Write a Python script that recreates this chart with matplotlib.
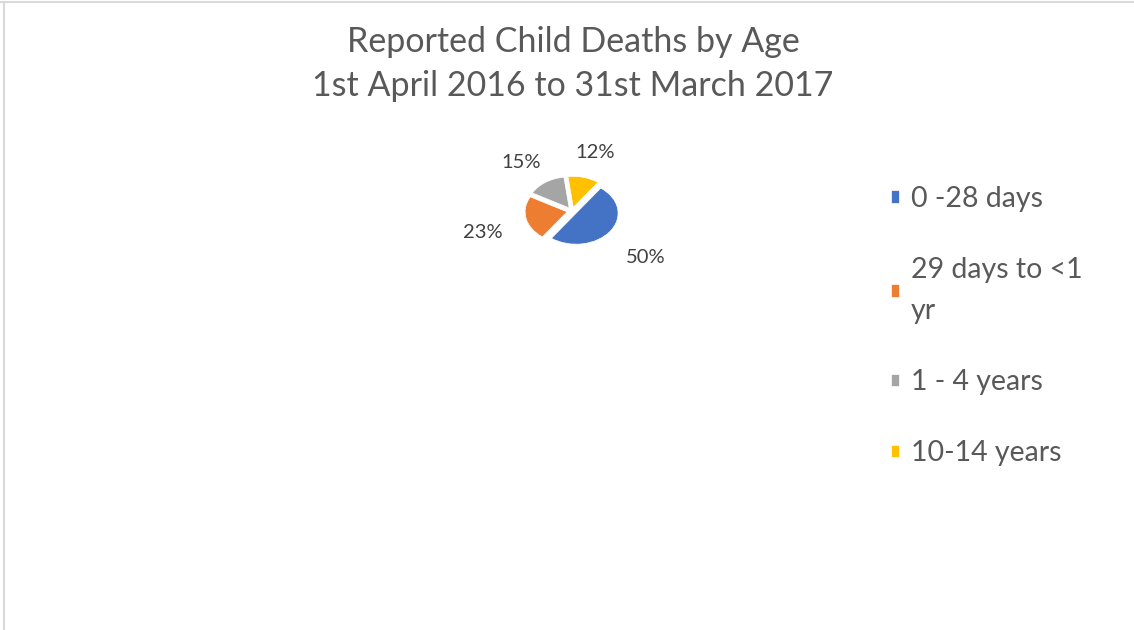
import matplotlib.pyplot as plt
import matplotlib.transforms as mtransforms
from matplotlib.lines import Line2D

# data
age_groups = ["0 -28 days", "29 days to <1\nyr", "1 - 4 years", "10-14 years"]
shares = [50, 23, 15, 12]
colors = ["#4472C4", "#ED7D31", "#A5A5A5", "#FFC000"]

title = "Reported Child Deaths by Age\n1st April 2016 to 31st March 2017"

plt.rcParams['font.family'] = ['Lato', 'DejaVu Sans']

W, H = 1134, 630
fig = plt.figure(figsize=(W / 100, H / 100), dpi=100)
fig.patch.set_facecolor("white")

# partial chart border (top and left edge)
fig.add_artist(Line2D([0, 1], [1 - 2 / H, 1 - 2 / H], color="#d9d9d9", lw=1.5))
fig.add_artist(Line2D([4 / W, 4 / W], [0, 1 - 2 / H], color="#d9d9d9", lw=1.5))

fig.text(573 / W, 1 - 64 / H, title, ha="center", va="center",
         fontsize=24.5, color="#595959", linespacing=1.5)

# squashed pie to mimic the tilted 3-D look
cx, cy, rx, ry = 572, 211, 42, 31
ax = fig.add_axes([(cx - 2 * rx) / W, (H - cy - 2 * ry) / H, 4 * rx / W, 4 * ry / H])
wedges, _, autotexts = ax.pie(shares, colors=colors, startangle=54, counterclock=False,
                              explode=[0.12] * len(shares), autopct='%1.0f%%',
                              pctdistance=2.05,
                              wedgeprops=dict(edgecolor="white", linewidth=0.5),
                              textprops=dict(fontsize=14.5, color="#404040"))
# excel sets the data labels a little lower on the tilted pie
for t in autotexts:
    t.set_transform(mtransforms.offset_copy(t.get_transform(), fig=fig, x=0, y=-7, units='dots'))
ax.set_aspect('auto')
ax.set_xlim(-2, 2)
ax.set_ylim(-2, 2)
ax.axis('off')

leg = fig.legend(wedges, age_groups, loc="upper left", bbox_to_anchor=(865 / W, 1 - 160 / H),
                 frameon=False, fontsize=20.5, labelcolor="#595959",
                 handlelength=0.3, handleheight=0.3, handletextpad=0.4,
                 labelspacing=1.58)
for t in leg.get_texts():
    t.set_linespacing(1.75)

fig.savefig("out.png", dpi=100)
